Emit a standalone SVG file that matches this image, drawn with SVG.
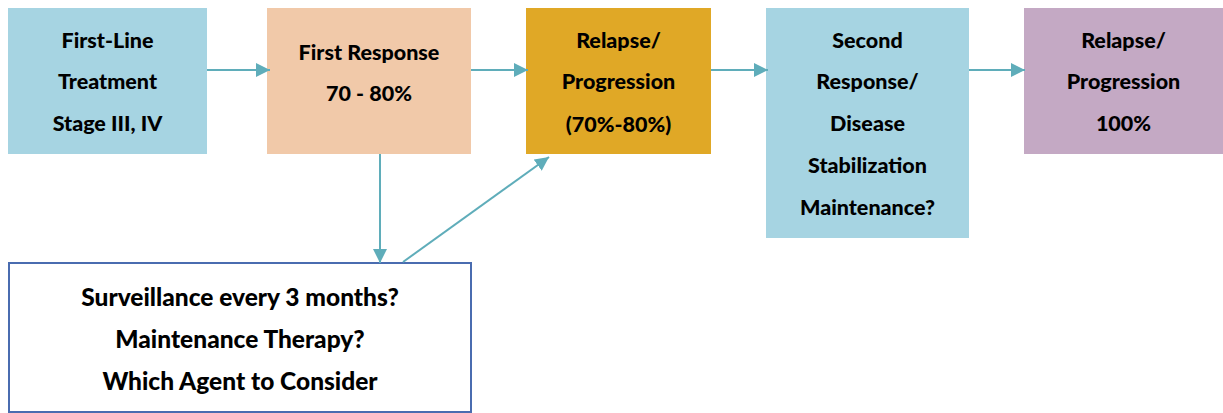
<svg xmlns="http://www.w3.org/2000/svg" width="1223" height="413" viewBox="0 0 1223 413">
<style>
text{font-family:Lato,"Open Sans","Liberation Sans",sans-serif;font-weight:900;font-size:21.5px;fill:#000;text-anchor:middle}
.b{font-size:24.5px}
.c{stroke:#5fadba;stroke-width:2;fill:none}
</style>
<defs>
<marker id="ah" viewBox="0 0 10 10" refX="10" refY="5" markerWidth="7" markerHeight="7" orient="auto" markerUnits="strokeWidth">
<path d="M0,0 L10,5 L0,10 z" fill="#5fadba"/>
</marker>
</defs>
<rect width="1223" height="413" fill="#fff"/>
<g id="n1"><rect x="8" y="8" width="199" height="146" fill="#a6d4e2"/>
<text x="107.5" y="48">First-Line</text><text x="107.5" y="89">Treatment</text><text x="107.5" y="131">Stage III, IV</text></g>
<g id="n2"><rect x="267" y="8" width="204" height="146" fill="#f1c9a9"/>
<text x="369" y="60">First Response</text><text x="369" y="101">70 - 80%</text></g>
<g id="n3"><rect x="526" y="8" width="185" height="146" fill="#e0a826"/>
<text x="618.5" y="48">Relapse/</text><text x="618.5" y="89">Progression</text><text x="618.5" y="132">(70%-80%)</text></g>
<g id="n4"><rect x="766" y="8" width="203" height="230" fill="#a6d4e2"/>
<text x="867.5" y="48">Second</text><text x="867.5" y="89">Response/</text><text x="867.5" y="131">Disease</text><text x="867.5" y="173">Stabilization</text><text x="867.5" y="215">Maintenance?</text></g>
<g id="n5"><rect x="1024" y="8" width="199" height="146" fill="#c4a9c4"/>
<text x="1123.5" y="48">Relapse/</text><text x="1123.5" y="89">Progression</text><text x="1123.5" y="131">100%</text></g>
<g id="n6"><rect x="9" y="263" width="462" height="149" fill="#fff" stroke="#4a6cb0" stroke-width="2"/>
<text class="b" x="240" y="306">Surveillance every 3 months?</text><text class="b" x="240" y="348">Maintenance Therapy?</text><text class="b" x="240" y="390">Which Agent to Consider</text></g>
<g id="connectors">
<line class="c" x1="207" y1="70" x2="270" y2="70" marker-end="url(#ah)"/>
<line class="c" x1="471" y1="70" x2="528" y2="70" marker-end="url(#ah)"/>
<line class="c" x1="711" y1="70" x2="768" y2="70" marker-end="url(#ah)"/>
<line class="c" x1="969" y1="70" x2="1025" y2="70" marker-end="url(#ah)"/>
<line class="c" x1="380" y1="154" x2="380" y2="263" marker-end="url(#ah)"/>
<line class="c" x1="403" y1="262" x2="549" y2="157" marker-end="url(#ah)"/>
</g>
</svg>
